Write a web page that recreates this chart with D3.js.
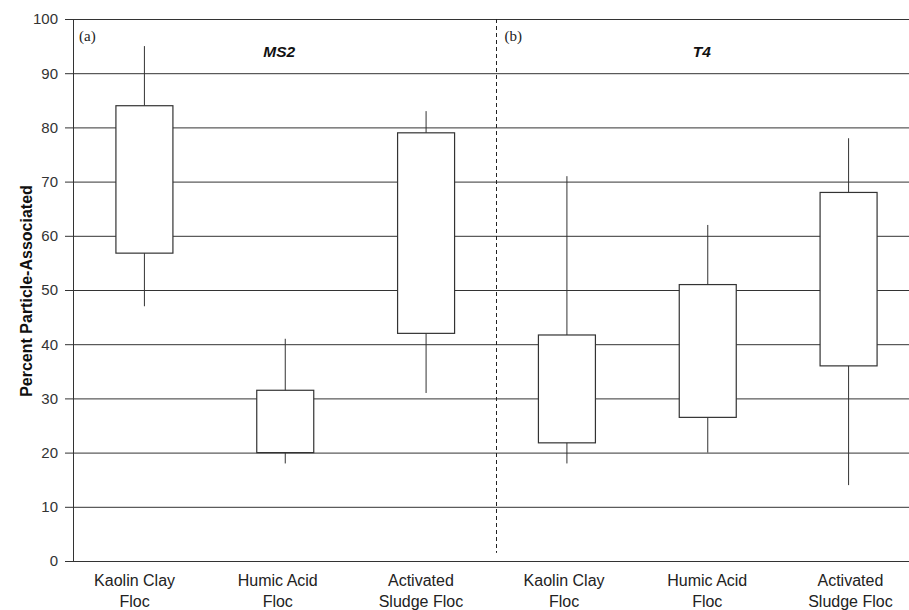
<!DOCTYPE html>
<html>
<head>
<meta charset="utf-8">
<script src="https://cdn.jsdelivr.net/npm/d3@7"></script>
<style>
  body { margin: 0; background: #fff; }
  svg { display: block; }
</style>
</head>
<body>
<script>
// data
const categories = ["Kaolin Clay|Floc", "Humic Acid|Floc", "Activated|Sludge Floc",
                    "Kaolin Clay|Floc", "Humic Acid|Floc", "Activated|Sludge Floc"];
const whiskerHigh = [95, 41, 83, 71, 62, 78];
const boxHigh = [84, 31.5, 79, 41.7, 51, 68];
const boxLow = [56.8, 20, 42, 21.8, 26.5, 36];
const whiskerLow = [47, 18, 31, 18, 20, 14];
const yTicks = [0, 10, 20, 30, 40, 50, 60, 70, 80, 90, 100];
const panels = [
  { tag: "(a)", virus: "MS2", first: 0 },
  { tag: "(b)", virus: "T4", first: 3 },
];

const width = 909;
const height = 610;
const margin = { top: 19, bottom: 49 };
const ink = "#333";
const sans = "Liberation Sans, Arial, sans-serif";

const svg = d3.select("body").append("svg")
  .attr("width", width)
  .attr("height", height);

// boxes sit on one band scale, the category labels on a slightly wider one
const x = d3.scaleBand()
  .domain(d3.range(categories.length))
  .range([74, 919]);
const xLabel = d3.scaleBand()
  .domain(d3.range(categories.length))
  .range([63, 922]);

const y = d3.scaleLinear()
  .domain([0, 100])
  .range([height - margin.bottom, margin.top]);

const axisX = 73;

// gridlines + y axis
const yAxis = d3.axisLeft(y).tickValues(yTicks).tickSize(8).tickPadding(7).tickSizeOuter(0);
svg.append("g")
  .attr("transform", `translate(${axisX},0)`)
  .call(yAxis)
  .call(g => g.select(".domain").attr("stroke", ink))
  .call(g => g.selectAll(".tick line").attr("stroke", ink))
  .call(g => g.selectAll(".tick line").clone()
    .attr("x1", 0).attr("x2", width - axisX).attr("stroke", ink))
  .call(g => g.selectAll(".tick text")
    .attr("fill", "#333")
    .style("font-family", sans)
    .style("font-size", "15px"));

// dashed divider between panels
svg.append("line")
  .attr("x1", x(3)).attr("x2", x(3))
  .attr("y1", y(100)).attr("y2", y(1.5))
  .attr("stroke", "#222")
  .attr("stroke-dasharray", "4,3");

// whiskers + boxes
const boxW = 57;
const boxes = svg.append("g")
  .selectAll("g")
  .data(d3.range(categories.length))
  .join("g")
  .attr("transform", i => `translate(${x(i) + x.bandwidth() / 2},0)`);

boxes.append("line")
  .attr("y1", i => y(whiskerHigh[i]))
  .attr("y2", i => y(whiskerLow[i]))
  .attr("stroke", ink);

boxes.append("rect")
  .attr("x", -boxW / 2)
  .attr("width", boxW)
  .attr("y", i => y(boxHigh[i]))
  .attr("height", i => y(boxLow[i]) - y(boxHigh[i]))
  .attr("fill", "#fff")
  .attr("stroke", ink)
  .attr("stroke-width", 1.2);

// category labels, two lines each
const labels = svg.append("g")
  .selectAll("text")
  .data(categories)
  .join("text")
  .attr("x", (d, i) => xLabel(i) + xLabel.bandwidth() / 2)
  .attr("y", 585.5)
  .attr("text-anchor", "middle")
  .attr("fill", "#222")
  .style("font-family", sans)
  .style("font-size", "16px");
labels.selectAll("tspan")
  .data(d => d.split("|"))
  .join("tspan")
  .attr("x", function () { return this.parentNode.getAttribute("x"); })
  .attr("dy", (d, j) => j === 0 ? 0 : 21)
  .text(d => d);

// panel tags and virus names
svg.append("g").selectAll("text")
  .data(panels)
  .join("text")
  .attr("x", d => d.first === 0 ? axisX + 6 : x(3) + 8)
  .attr("y", 41)
  .attr("fill", "#222")
  .style("font-family", "Liberation Serif, Times New Roman, serif")
  .style("font-size", "15px")
  .text(d => d.tag);

svg.append("g").selectAll("text")
  .data(panels)
  .join("text")
  .attr("x", d => x(d.first + 1) + x.bandwidth() / 2 - 6)
  .attr("y", 57)
  .attr("text-anchor", "middle")
  .attr("fill", "#111")
  .style("font-family", sans)
  .style("font-size", "15.5px")
  .style("font-weight", "bold")
  .style("font-style", "italic")
  .text(d => d.virus);

// y axis title
svg.append("text")
  .attr("transform", `translate(32,291) rotate(-90)`)
  .attr("text-anchor", "middle")
  .attr("fill", "#111")
  .style("font-family", sans)
  .style("font-size", "16px")
  .style("font-weight", "bold")
  .text("Percent Particle-Associated");
</script>
</body>
</html>
